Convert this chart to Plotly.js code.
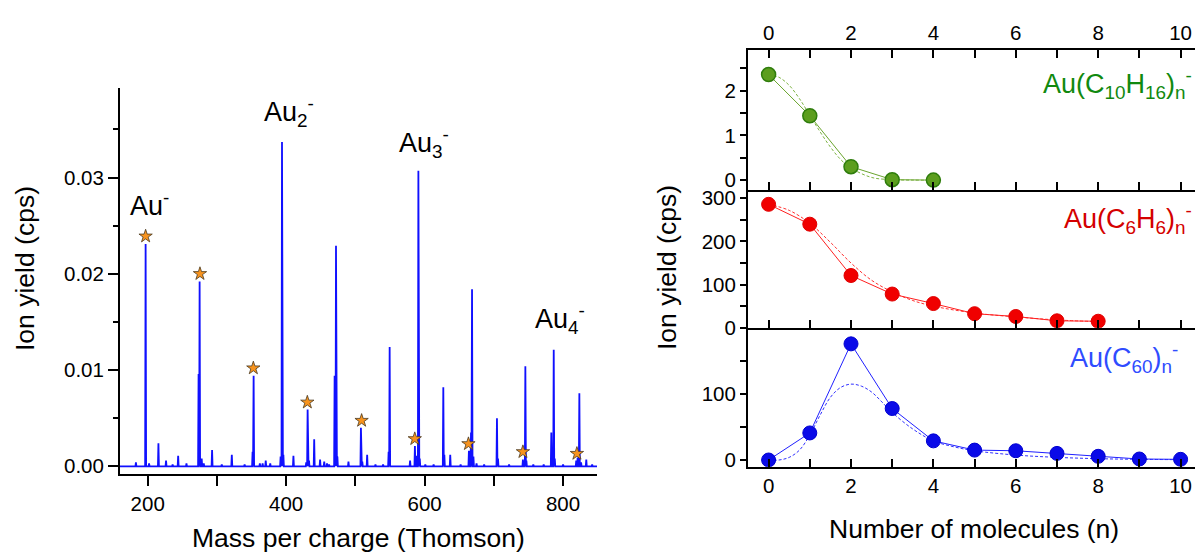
<!DOCTYPE html>
<html><head><meta charset="utf-8">
<script src="https://cdn.plot.ly/plotly-3.0.1.min.js"></script>
<style>html,body{margin:0;padding:0;background:#fff;overflow:hidden}#chart{width:1195px;height:554px}</style>
</head><body><div id="chart"></div>
<script>
// ---- Left panel: mass spectrum (stick peaks) ----
const peakMz = [183,197,202,215.5,226.5,236,244,256,273.5,275,278,281,293,307,321.5,340,351.5,353,362,366,370.5,377,392,394,396,410.5,429,431,433,440.5,449,455,459,462,470,472,474,490,508,510,517,529,540,548,549.5,579,586,589,591,593,601,613,627,628.5,637,652,664,667,668.5,670.5,675,686,704.5,706,722,742,745.5,747,757,772,783,786.5,788,800,819,821,823.5,826,833.5,842];
const peakVal = [0.0004,0.0231,0.0003,0.0024,0.0006,0.0002,0.0011,0.0003,0.0096,0.0192,0.0008,0.0003,0.0017,0.0002,0.0012,0.0002,0.0015,0.0094,0.0003,0.0003,0.0006,0.0003,0.0010,0.0337,0.0012,0.0011,0.0004,0.0059,0.0006,0.0028,0.0007,0.0005,0.0003,0.0002,0.0094,0.0229,0.0010,0.0005,0.0040,0.0005,0.0012,0.0002,0.0002,0.0015,0.0124,0.0006,0.0021,0.0011,0.0307,0.0008,0.0002,0.0002,0.0082,0.0012,0.0012,0.0002,0.0016,0.0035,0.0184,0.0010,0.0003,0.0002,0.0050,0.0008,0.0002,0.0007,0.0104,0.0006,0.0002,0.0002,0.0035,0.0121,0.0008,0.0002,0.0006,0.0009,0.0076,0.0004,0.0007,0.0002];
const starMz = [197,275.5,352.6,430.6,509,585.8,663.3,742,820];
const starVal = [0.0239,0.0200,0.0102,0.00665,0.00475,0.00285,0.00233,0.0015,0.00132];
const massRange = [160, 849];

// ---- Right panels: ion yield vs number of molecules ----
const nC10H16 = [0,1,2,3,4];
const yC10H16 = [2.36,1.44,0.30,0.01,0.0];
const fitNC10H16 = [0,0.25,0.5,0.75,1,1.25,1.5,1.75,2,2.5,3,3.5,4];
const fitYC10H16 = [2.36,2.30,2.12,1.82,1.45,1.08,0.74,0.46,0.27,0.06,0.01,0.0,0.0];

const nC6H6 = [0,1,2,3,4,5,6,7,8];
const yC6H6 = [286,240,121,78,56,32.5,26,16,15];
const fitNC6H6 = [0,0.5,1,1.5,2,2.5,3,3.5,4,5,6,7,8];
const fitYC6H6 = [286,272,242,198,150,110,83,63,50,34,25,18,14];

const nC60 = [0,1,2,3,4,5,6,7,8,9,10];
const yC60 = [0,41,176,78,29,15,14,10,5.6,1.5,1];
const fitNC60 = [0,0.25,0.5,0.75,1,1.25,1.5,1.75,2,2.25,2.5,2.75,3,3.5,4,4.5,5,6,7,8,9,10];
const fitYC60 = [0,0,4,15,38,68,95,110,115,112,103,88,72,47,29,20,14,7.5,4,2,1,0.5];

// build stick spectrum from peak table
const order = peakMz.map((m,i)=>i).sort((a,b)=>peakMz[a]-peakMz[b]);
const specX = [massRange[0]], specY = [0];
order.forEach(i=>{ const m=peakMz[i]; specX.push(m-0.7,m,m+0.7); specY.push(0,peakVal[i],0); });
specX.push(massRange[1]); specY.push(0);

const FONT = 'Liberation Sans, Arial, Helvetica, sans-serif';
const W = 1195, H = 554;
const px = v => v / W, py = v => 1 - v / H;
const DASH = '3px,2px';

const traces = [
  {x: specX, y: specY, xaxis:'x', yaxis:'y', mode:'lines', line:{color:'#1010ff', width:1.8}, hoverinfo:'skip'},
  {x: starMz, y: starVal, xaxis:'x', yaxis:'y', mode:'markers', marker:{symbol:'star', size:10, color:'#f7931e', line:{color:'#4a3a20', width:0.8}}},
  {x: fitNC10H16, y: fitYC10H16, xaxis:'x2', yaxis:'y2', mode:'lines', line:{color:'#7cb342', width:1, dash:DASH, shape:'spline'}},
  {x: nC10H16, y: yC10H16, xaxis:'x2', yaxis:'y2', mode:'lines+markers', line:{color:'#6aa52e', width:1}, marker:{size:14, color:'#5c9e1e', line:{color:'#2f7d0c', width:1.5}}},
  {x: fitNC6H6, y: fitYC6H6, xaxis:'x3', yaxis:'y3', mode:'lines', line:{color:'#ff3030', width:1, dash:DASH, shape:'spline'}},
  {x: nC6H6, y: yC6H6, xaxis:'x3', yaxis:'y3', mode:'lines+markers', line:{color:'#ff2020', width:1}, marker:{size:14, color:'#f00000', line:{color:'#e00000', width:1}}},
  {x: fitNC60, y: fitYC60, xaxis:'x4', yaxis:'y4', mode:'lines', line:{color:'#3030ff', width:1, dash:DASH, shape:'spline'}},
  {x: nC60, y: yC60, xaxis:'x4', yaxis:'y4', mode:'lines+markers', line:{color:'#2020ff', width:1}, marker:{size:14, color:'#0a0ae8', line:{color:'#0000d0', width:1}}}
];

const tickFont = {family: FONT, size: 20.5, color:'#000'};
const baseAx = {showline:true, linewidth:2, linecolor:'#000', showgrid:false, zeroline:false, tickwidth:2, tickcolor:'#000', tickfont:tickFont, fixedrange:true};
const rX = [-0.5, 10.35];
const rightXDomain = [px(748), 1];

const layout = {
  width: W, height: H, margin:{l:0,r:0,t:0,b:0}, paper_bgcolor:'#fff', plot_bgcolor:'rgba(0,0,0,0)',
  showlegend:false, font:{family:FONT, color:'#000'},
  xaxis: Object.assign({}, baseAx, {domain:[px(120), px(597)], range:massRange, anchor:'y', ticks:'outside', ticklen:10,
    tickvals:[200,400,600,800], minor:{tickvals:[300,500,700], ticks:'outside', ticklen:10, tickwidth:2, tickcolor:'#000'}}),
  yaxis: Object.assign({}, baseAx, {domain:[py(474), py(88)], range:[-0.0008, 0.0393], anchor:'x', ticks:'outside', ticklen:10,
    tickvals:[0,0.01,0.02,0.03], ticktext:['0.00','0.01','0.02','0.03'], minor:{tickvals:[0.005,0.015,0.025,0.035], ticks:'outside', ticklen:5, tickwidth:2, tickcolor:'#000'}}),
  xaxis2: Object.assign({}, baseAx, {domain:rightXDomain, range:rX, anchor:'y2', side:'top', ticks:'inside', ticklen:8, mirror:'ticks',
    tickvals:[0,2,4,6,8,10], minor:{tickvals:[1,3,5,7,9], ticks:'inside', ticklen:8, tickwidth:2, tickcolor:'#000'}}),
  xaxis3: Object.assign({}, baseAx, {domain:rightXDomain, range:rX, anchor:'y3', side:'bottom', ticks:'inside', ticklen:8, showticklabels:false,
    tickvals:[0,2,4,6,8,10], minor:{tickvals:[1,3,5,7,9], ticks:'inside', ticklen:8, tickwidth:2, tickcolor:'#000'}}),
  xaxis4: Object.assign({}, baseAx, {domain:rightXDomain, range:rX, anchor:'y4', side:'bottom', ticks:'inside', ticklen:8,
    tickvals:[0,2,4,6,8,10], minor:{tickvals:[1,3,5,7,9], ticks:'inside', ticklen:8, tickwidth:2, tickcolor:'#000'}}),
  yaxis2: Object.assign({}, baseAx, {domain:[py(189.5), py(50)], range:[-0.21, 2.91], anchor:'x2', ticks:'outside', ticklen:6,
    tickvals:[0,1,2], minor:{tickvals:[0.5,1.5,2.5], ticks:'outside', ticklen:6, tickwidth:2, tickcolor:'#000'}}),
  yaxis3: Object.assign({}, baseAx, {domain:[py(327.7), py(189.5)], range:[0, 320.4], anchor:'x3', ticks:'outside', ticklen:6,
    tickvals:[0,100,200,300], minor:{tickvals:[50,150,250], ticks:'outside', ticklen:6, tickwidth:2, tickcolor:'#000'}}),
  yaxis4: Object.assign({}, baseAx, {domain:[py(466.7), py(327.7)], range:[-10.15, 200.5], anchor:'x4', ticks:'outside', ticklen:6,
    tickvals:[0,100], minor:{tickvals:[50,150], ticks:'outside', ticklen:6, tickwidth:2, tickcolor:'#000'}}),
  annotations: [
    {text:'Au<sup>-</sup>', xref:'x', yref:'y', x:171.5, y:0.0272, xanchor:'left', yanchor:'middle', showarrow:false, font:{size:27, family:FONT, color:'#000'}},
    {text:'Au<sub>2</sub><sup>-</sup>', xref:'x', yref:'y', x:364.7, y:0.0368, xanchor:'left', yanchor:'middle', showarrow:false, font:{size:27, family:FONT, color:'#000'}},
    {text:'Au<sub>3</sub><sup>-</sup>', xref:'x', yref:'y', x:559.8, y:0.0336, xanchor:'left', yanchor:'middle', showarrow:false, font:{size:27, family:FONT, color:'#000'}},
    {text:'Au<sub>4</sub><sup>-</sup>', xref:'x', yref:'y', x:756.8, y:0.0153, xanchor:'left', yanchor:'middle', showarrow:false, font:{size:27, family:FONT, color:'#000'}},
    {text:'Au(C<sub>10</sub>H<sub>16</sub>)<sub>n</sub><sup>-</sup>', xref:'paper', yref:'paper', x:px(1194), y:py(84), xanchor:'right', yanchor:'middle', showarrow:false, font:{size:27, family:FONT, color:'#11890f'}},
    {text:'Au(C<sub>6</sub>H<sub>6</sub>)<sub>n</sub><sup>-</sup>', xref:'paper', yref:'paper', x:px(1194), y:py(219), xanchor:'right', yanchor:'middle', showarrow:false, font:{size:27, family:FONT, color:'#d40000'}},
    {text:'Au(C<sub>60</sub>)<sub>n</sub><sup>-</sup>', xref:'paper', yref:'paper', x:px(1180), y:py(358), xanchor:'right', yanchor:'middle', showarrow:false, font:{size:27, family:FONT, color:'#2f4cff'}},
    {text:'Ion yield (cps)', xref:'paper', yref:'paper', x:px(25), y:py(269), textangle:-90, xanchor:'center', yanchor:'middle', showarrow:false, font:{size:26.5, family:FONT, color:'#000'}},
    {text:'Ion yield (cps)', xref:'paper', yref:'paper', x:px(667), y:py(268), textangle:-90, xanchor:'center', yanchor:'middle', showarrow:false, font:{size:26.5, family:FONT, color:'#000'}},
    {text:'Mass per charge (Thomson)', xref:'paper', yref:'paper', x:px(358), y:py(538), xanchor:'center', yanchor:'middle', showarrow:false, font:{size:26.5, family:FONT, color:'#000'}},
    {text:'Number of molecules (n)', xref:'paper', yref:'paper', x:px(974), y:py(529), xanchor:'center', yanchor:'middle', showarrow:false, font:{size:26.5, family:FONT, color:'#000'}}
  ]
};

Plotly.newPlot('chart', traces, layout, {displayModeBar:false, staticPlot:true});
</script></body></html>
